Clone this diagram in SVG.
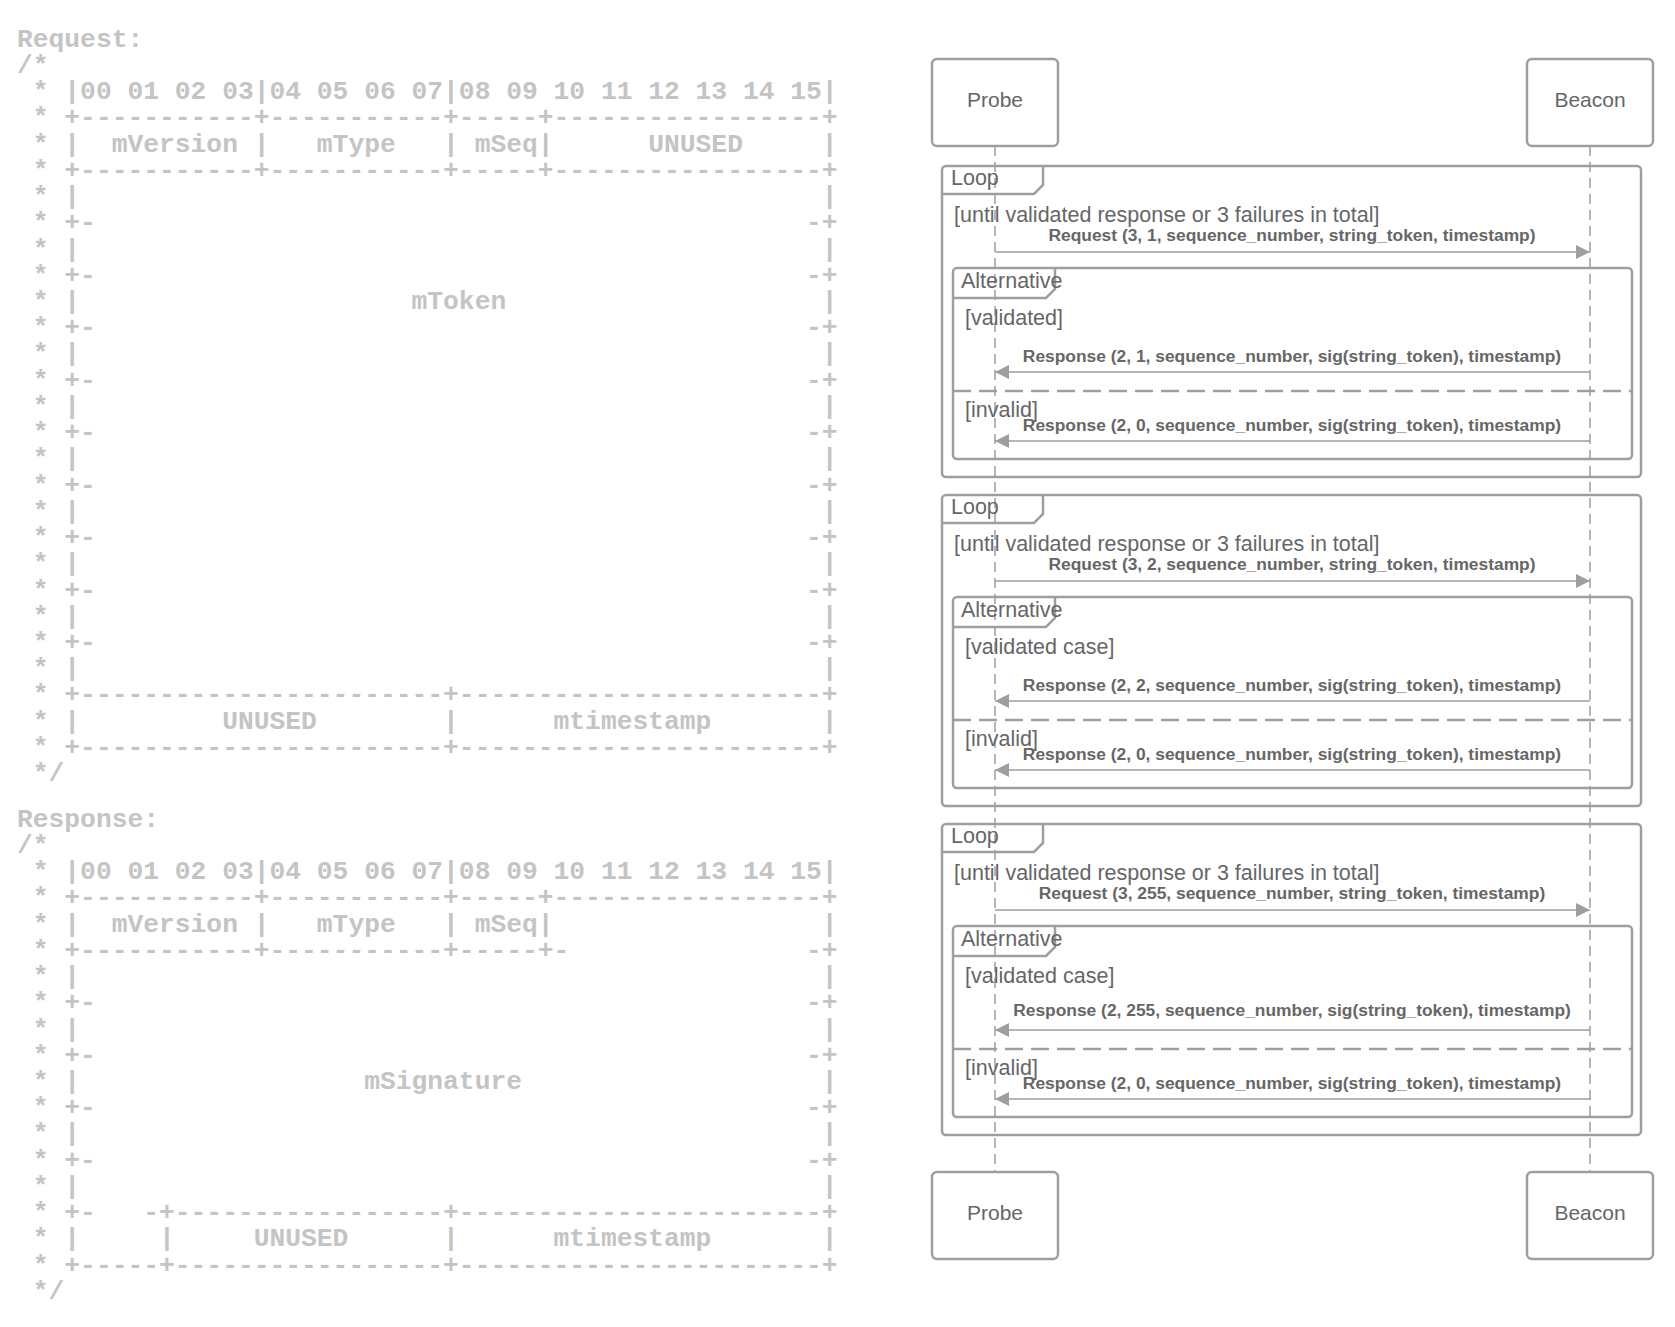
<svg xmlns="http://www.w3.org/2000/svg" width="1675" height="1327" viewBox="0 0 1675 1327">
<style>
.a{font-family:"Liberation Mono",monospace;font-weight:bold;font-size:26.3px;fill:#c4c4c4;white-space:pre}
.box{fill:#fff;stroke:#9e9e9e;stroke-width:2.5}
.nt{font-family:"Liberation Sans",Arial,sans-serif;font-size:21px;fill:#666;text-anchor:middle}
.g{font-family:"Liberation Sans",Arial,sans-serif;font-size:21.5px;fill:#666}
.m{font-family:"Liberation Sans",Arial,sans-serif;font-size:17.4px;font-weight:bold;fill:#666;text-anchor:middle}
.fr{fill:none;stroke:#9e9e9e;stroke-width:2.5}
.life{stroke:#9e9e9e;stroke-width:1.5;stroke-dasharray:10 6}
.msg{stroke:#9e9e9e;stroke-width:1.5;fill:none;marker-end:url(#ah)}
.div{stroke:#9e9e9e;stroke-width:2.5;stroke-dasharray:18 8}
</style>
<defs>
<marker id="ah" viewBox="0 0 10 10" refX="10" refY="5" markerWidth="18" markerHeight="14" markerUnits="userSpaceOnUse" orient="auto"><path d="M0,0 L10,5 L0,10 z" fill="#9e9e9e"/></marker>
</defs>
<rect width="1675" height="1327" fill="#fff"/>
<g id="request-layout" xml:space="preserve">
<text class="a" x="17" y="47">Request:</text>
<text class="a" x="17" y="73">/*</text>
<text class="a" x="17" y="99"> * |00 01 02 03|04 05 06 07|08 09 10 11 12 13 14 15|</text>
<text class="a" x="17" y="125"> * +-----------+-----------+-----+-----------------+</text>
<text class="a" x="17" y="152"> * |  mVersion |   mType   | mSeq|      UNUSED     |</text>
<text class="a" x="17" y="178"> * +-----------+-----------+-----+-----------------+</text>
<text class="a" x="17" y="204"> * |                                               |</text>
<text class="a" x="17" y="230"> * +-                                             -+</text>
<text class="a" x="17" y="257"> * |                                               |</text>
<text class="a" x="17" y="283"> * +-                                             -+</text>
<text class="a" x="17" y="309"> * |                     mToken                    |</text>
<text class="a" x="17" y="335"> * +-                                             -+</text>
<text class="a" x="17" y="361"> * |                                               |</text>
<text class="a" x="17" y="388"> * +-                                             -+</text>
<text class="a" x="17" y="414"> * |                                               |</text>
<text class="a" x="17" y="440"> * +-                                             -+</text>
<text class="a" x="17" y="466"> * |                                               |</text>
<text class="a" x="17" y="493"> * +-                                             -+</text>
<text class="a" x="17" y="519"> * |                                               |</text>
<text class="a" x="17" y="545"> * +-                                             -+</text>
<text class="a" x="17" y="571"> * |                                               |</text>
<text class="a" x="17" y="598"> * +-                                             -+</text>
<text class="a" x="17" y="624"> * |                                               |</text>
<text class="a" x="17" y="650"> * +-                                             -+</text>
<text class="a" x="17" y="676"> * |                                               |</text>
<text class="a" x="17" y="702"> * +-----------------------+-----------------------+</text>
<text class="a" x="17" y="729"> * |         UNUSED        |      mtimestamp       |</text>
<text class="a" x="17" y="755"> * +-----------------------+-----------------------+</text>
<text class="a" x="17" y="781"> */</text>
</g>
<g id="response-layout" xml:space="preserve">
<text class="a" x="17" y="827">Response:</text>
<text class="a" x="17" y="853">/*</text>
<text class="a" x="17" y="879"> * |00 01 02 03|04 05 06 07|08 09 10 11 12 13 14 15|</text>
<text class="a" x="17" y="905"> * +-----------+-----------+-----+-----------------+</text>
<text class="a" x="17" y="932"> * |  mVersion |   mType   | mSeq|                 |</text>
<text class="a" x="17" y="958"> * +-----------+-----------+-----+-               -+</text>
<text class="a" x="17" y="984"> * |                                               |</text>
<text class="a" x="17" y="1010"> * +-                                             -+</text>
<text class="a" x="17" y="1037"> * |                                               |</text>
<text class="a" x="17" y="1063"> * +-                                             -+</text>
<text class="a" x="17" y="1089"> * |                  mSignature                   |</text>
<text class="a" x="17" y="1115"> * +-                                             -+</text>
<text class="a" x="17" y="1141"> * |                                               |</text>
<text class="a" x="17" y="1168"> * +-                                             -+</text>
<text class="a" x="17" y="1194"> * |                                               |</text>
<text class="a" x="17" y="1220"> * +-   -+-----------------+-----------------------+</text>
<text class="a" x="17" y="1246"> * |     |     UNUSED      |      mtimestamp       |</text>
<text class="a" x="17" y="1273"> * +-----+-----------------+-----------------------+</text>
<text class="a" x="17" y="1299"> */</text>
</g>
<g id="connectors">
<line class="life" x1="995" y1="146" x2="995" y2="1172"/>
<line class="life" x1="1590" y1="146" x2="1590" y2="1172"/>
</g>
<g id="probe-top"><rect class="box" x="932" y="59" width="126" height="87" rx="5"/><text class="nt" x="995" y="107">Probe</text></g>
<g id="beacon-top"><rect class="box" x="1527" y="59" width="126" height="87" rx="5"/><text class="nt" x="1590" y="107">Beacon</text></g>
<g id="probe-bottom"><rect class="box" x="932" y="1172" width="126" height="87" rx="5"/><text class="nt" x="995" y="1220">Probe</text></g>
<g id="beacon-bottom"><rect class="box" x="1527" y="1172" width="126" height="87" rx="5"/><text class="nt" x="1590" y="1220">Beacon</text></g>
<g id="loop1">
<rect class="fr" x="942" y="166" width="699" height="311" rx="4"/>
<path class="fr" d="M942,194 H1034 L1043,185 V166"/>
<text class="g" x="951" y="185">Loop</text>
<text class="g" x="954" y="222">[until validated response or 3 failures in total]</text>
<text class="m" x="1292" y="241">Request (3, 1, sequence_number, string_token, timestamp)</text>
<line class="msg" x1="995" y1="252" x2="1590" y2="252"/>
<g id="alt1">
<rect class="fr" x="953" y="268" width="679" height="191" rx="4"/>
<path class="fr" d="M953,298 H1046 L1055,289 V268"/>
<text class="g" x="961" y="288">Alternative</text>
<text class="g" x="965" y="325">[validated]</text>
<text class="m" x="1292" y="362">Response (2, 1, sequence_number, sig(string_token), timestamp)</text>
<line class="msg" x1="1590" y1="372" x2="995" y2="372"/>
<line class="div" x1="953" y1="391" x2="1632" y2="391"/>
<text class="g" x="965" y="417">[invalid]</text>
<text class="m" x="1292" y="431">Response (2, 0, sequence_number, sig(string_token), timestamp)</text>
<line class="msg" x1="1590" y1="441" x2="995" y2="441"/>
</g>
</g>
<g id="loop2" transform="translate(0,329)">
<rect class="fr" x="942" y="166" width="699" height="311" rx="4"/>
<path class="fr" d="M942,194 H1034 L1043,185 V166"/>
<text class="g" x="951" y="185">Loop</text>
<text class="g" x="954" y="222">[until validated response or 3 failures in total]</text>
<text class="m" x="1292" y="241">Request (3, 2, sequence_number, string_token, timestamp)</text>
<line class="msg" x1="995" y1="252" x2="1590" y2="252"/>
<g id="alt2">
<rect class="fr" x="953" y="268" width="679" height="191" rx="4"/>
<path class="fr" d="M953,298 H1046 L1055,289 V268"/>
<text class="g" x="961" y="288">Alternative</text>
<text class="g" x="965" y="325">[validated case]</text>
<text class="m" x="1292" y="362">Response (2, 2, sequence_number, sig(string_token), timestamp)</text>
<line class="msg" x1="1590" y1="372" x2="995" y2="372"/>
<line class="div" x1="953" y1="391" x2="1632" y2="391"/>
<text class="g" x="965" y="417">[invalid]</text>
<text class="m" x="1292" y="431">Response (2, 0, sequence_number, sig(string_token), timestamp)</text>
<line class="msg" x1="1590" y1="441" x2="995" y2="441"/>
</g>
</g>
<g id="loop3" transform="translate(0,658)">
<rect class="fr" x="942" y="166" width="699" height="311" rx="4"/>
<path class="fr" d="M942,194 H1034 L1043,185 V166"/>
<text class="g" x="951" y="185">Loop</text>
<text class="g" x="954" y="222">[until validated response or 3 failures in total]</text>
<text class="m" x="1292" y="241">Request (3, 255, sequence_number, string_token, timestamp)</text>
<line class="msg" x1="995" y1="252" x2="1590" y2="252"/>
<g id="alt3">
<rect class="fr" x="953" y="268" width="679" height="191" rx="4"/>
<path class="fr" d="M953,298 H1046 L1055,289 V268"/>
<text class="g" x="961" y="288">Alternative</text>
<text class="g" x="965" y="325">[validated case]</text>
<text class="m" x="1292" y="358">Response (2, 255, sequence_number, sig(string_token), timestamp)</text>
<line class="msg" x1="1590" y1="372" x2="995" y2="372"/>
<line class="div" x1="953" y1="391" x2="1632" y2="391"/>
<text class="g" x="965" y="417">[invalid]</text>
<text class="m" x="1292" y="431">Response (2, 0, sequence_number, sig(string_token), timestamp)</text>
<line class="msg" x1="1590" y1="441" x2="995" y2="441"/>
</g>
</g>
</svg>
